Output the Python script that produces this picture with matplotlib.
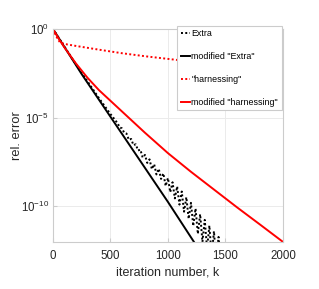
import numpy as np
import matplotlib
matplotlib.use('Agg')
import matplotlib.pyplot as plt

plt.rcParams['font.family'] = ['Liberation Sans', 'DejaVu Sans']

# values, stored as log10(rel. error)
extra_k = [0, 100, 200, 300, 400, 500,
           520, 540, 560, 580, 600, 620, 640, 660, 680, 700,
           720, 740, 760, 780, 800, 820, 840, 860, 880, 900,
           920, 940, 960, 980, 1000, 1020, 1040, 1060, 1080, 1100,
           1120, 1140, 1160, 1180, 1200, 1220, 1240, 1260, 1280, 1300,
           1320, 1340, 1360, 1380, 1400, 1420, 1440, 1460, 1480]
extra_log = [0, -1.0, -2.0, -2.95, -3.9, -4.8,
             -4.95, -5.15, -5.28, -5.55, -5.6, -5.86, -5.9, -6.25, -6.2, -6.55,
             -6.5, -6.85, -6.8, -7.25, -7.1, -7.55, -7.35, -7.9, -7.62, -8.2,
             -7.88, -8.45, -8.14, -8.85, -8.4, -9.2, -8.64, -9.55, -8.88, -9.9,
             -9.16, -10.3, -9.48, -10.7, -9.8, -11.1, -10.12, -11.55, -10.44, -12.0,
             -10.76, -12.4, -11.08, -12.8, -11.4, -13.2, -11.72, -13.6, -12.04]

mod_extra_k = [0, 250, 500, 1000, 1226]
mod_extra_log = [0, -2.55, -4.95, -9.75, -12.0]

harn_k = [0, 20, 40, 60, 100, 200, 400, 600, 800, 1000, 1200, 1400, 1600, 1800, 2000]
harn_log = [0, -0.3, -0.55, -0.75, -0.85, -0.96, -1.17, -1.37, -1.54, -1.69,
            -1.84, -1.98, -2.12, -2.25, -2.37]

mod_harn_k = [0, 50, 100, 200, 300, 400, 500, 600, 800, 1000, 1200, 1400, 1600, 1800, 2000]
mod_harn_log = [0, -0.55, -1.05, -1.95, -2.75, -3.45, -4.05, -4.65, -5.85, -7.0,
                -8.05, -9.05, -10.05, -11.02, -12.0]

fig = plt.figure(figsize=(3.19, 2.89), dpi=100)
ax = fig.add_axes([0.166, 0.163, 0.721, 0.737])

ax.plot(extra_k, 10.0 ** np.array(extra_log), color='k', ls=(0, (1, 1.2)), lw=1.4, label='Extra')
ax.plot(mod_extra_k, 10.0 ** np.array(mod_extra_log), color='k', lw=1.4, label='modified "Extra"')
ax.plot(harn_k, 10.0 ** np.array(harn_log), color='r', ls=(0, (1, 1.2)), lw=1.4, label='"harnessing"')
ax.plot(mod_harn_k, 10.0 ** np.array(mod_harn_log), color='r', lw=1.4, label='modified "harnessing"')

ax.set_yscale('log')
ax.set_xlim(0, 2000)
ax.set_ylim(1e-12, 1e0)
ax.set_xticks([0, 500, 1000, 1500, 2000])
ax.set_yticks([1e-10, 1e-5, 1e0])
ax.minorticks_off()
ax.grid(True, color='#ebebeb', lw=0.7)
ax.set_axisbelow(True)
for s in ax.spines.values():
    s.set_color('#cccccc')
    s.set_linewidth(0.8)
ax.tick_params(direction='in', length=3, color='#cccccc', labelsize=8.3, labelcolor='#262626')
ax.tick_params(axis='x', pad=6)
ax.tick_params(axis='y', pad=3)

ax.set_xlabel('iteration number, k', fontsize=9, color='#262626', labelpad=3)
ax.set_ylabel('rel. error', fontsize=9.3, color='#262626')
ax.yaxis.set_label_coords(-0.13, 0.5)

leg = ax.legend(loc='upper left', bbox_to_anchor=(0.54, 1.014), fontsize=6.4,
                handlelength=1.1, handletextpad=0.1, labelspacing=1.55,
                borderpad=0.4, borderaxespad=0, fancybox=False, framealpha=1)
leg.get_frame().set_edgecolor('#cccccc')
leg.get_frame().set_linewidth(0.8)

fig.savefig('out.png', dpi=100)
